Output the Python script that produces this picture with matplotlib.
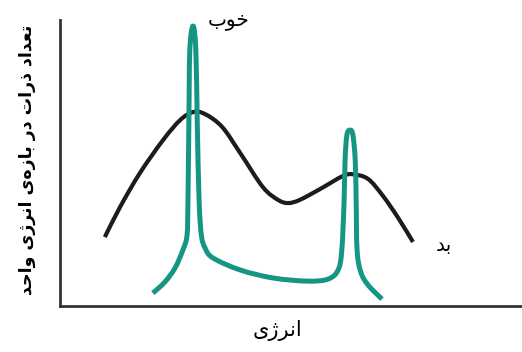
import matplotlib
matplotlib.use("Agg")
import matplotlib.pyplot as plt
from matplotlib.path import Path
from matplotlib.patches import PathPatch

# ---------------- data ----------------
bad_x = [9.7, 13.0, 17.3, 22.3, 26.0, 28.8, 31.4, 35.1, 39.0, 43.9, 47.2, 49.4,
         51.9, 56.3, 61.3, 63.6, 66.7, 69.9, 73.2, 76.4]
bad_y = [24.1, 34.6, 46.5, 58.0, 65.0, 67.8, 67.1, 62.6, 53.5, 41.6, 37.1, 36.0,
         37.1, 40.9, 45.5, 46.0, 44.4, 38.5, 30.8, 22.4]

good_x = [20.1, 22.7, 24.9, 26.6, 27.5, 27.7, 27.9, 28.1, 28.8, 29.4, 29.7, 30.1,
          30.6, 31.4, 33.1, 39.0, 46.1, 53.5, 58.0, 60.2, 61.0, 61.5, 61.7, 62.1,
          62.8, 63.4, 63.9, 64.1, 64.3, 65.1, 66.7, 69.7]
good_y = [4.5, 8.4, 13.3, 19.6, 24.8, 37.1, 65.0, 89.5, 97.9, 89.5, 65.0, 37.1,
          24.8, 20.3, 16.8, 12.6, 9.8, 8.7, 9.4, 12.6, 19.6, 37.1, 51.0, 59.8,
          61.5, 59.8, 51.0, 37.1, 19.6, 11.9, 7.3, 2.4]

ylabel_text = "تعداد ذرات در بازه\u200cی انرژی واحد"
xlabel_text = "انرژی"
good_label = "خوب"
bad_label = "بد"

# ---------------- minimal Arabic/Persian shaping ----------------
# (isolated, final, initial, medial)
FORMS = {
    'ا': ('\uFE8D', '\uFE8E', None, None),
    'ب': ('\uFE8F', '\uFE90', '\uFE91', '\uFE92'),
    'ت': ('\uFE95', '\uFE96', '\uFE97', '\uFE98'),
    'ح': ('\uFEA1', '\uFEA2', '\uFEA3', '\uFEA4'),
    'خ': ('\uFEA5', '\uFEA6', '\uFEA7', '\uFEA8'),
    'د': ('\uFEA9', '\uFEAA', None, None),
    'ذ': ('\uFEAB', '\uFEAC', None, None),
    'ر': ('\uFEAD', '\uFEAE', None, None),
    'ز': ('\uFEAF', '\uFEB0', None, None),
    'ژ': ('\uFB8A', '\uFB8B', None, None),
    'ع': ('\uFEC9', '\uFECA', '\uFECB', '\uFECC'),
    'ن': ('\uFEE5', '\uFEE6', '\uFEE7', '\uFEE8'),
    'ه': ('\uFEE9', '\uFEEA', '\uFEEB', '\uFEEC'),
    'و': ('\uFEED', '\uFEEE', None, None),
    'ی': ('\uFBFC', '\uFBFD', '\uFBFE', '\uFBFF'),
}


def shape(s):
    out = []
    n = len(s)
    for i, c in enumerate(s):
        if c not in FORMS:
            if c != '\u200c':
                out.append(c)
            continue
        p = s[i - 1] if i > 0 else ''
        nx = s[i + 1] if i + 1 < n else ''
        join_prev = p in FORMS and FORMS[p][2] is not None
        join_next = FORMS[c][2] is not None and nx in FORMS
        f = FORMS[c]
        if join_prev and join_next:
            out.append(f[3])
        elif join_prev:
            out.append(f[1])
        elif join_next:
            out.append(f[2])
        else:
            out.append(f[0])
    return ''.join(reversed(out))


def smooth_path(xs, ys, t=1.0 / 6.0):
    """Catmull-Rom curve through the given points, as cubic Bezier path."""
    pts = list(zip(xs, ys))
    verts = [pts[0]]
    codes = [Path.MOVETO]
    n = len(pts)
    for i in range(n - 1):
        p0 = pts[i - 1] if i > 0 else pts[i]
        p1 = pts[i]
        p2 = pts[i + 1]
        p3 = pts[i + 2] if i + 2 < n else pts[i + 1]
        c1 = (p1[0] + (p2[0] - p0[0]) * t, p1[1] + (p2[1] - p0[1]) * t)
        c2 = (p2[0] - (p3[0] - p1[0]) * t, p2[1] - (p3[1] - p1[1]) * t)
        verts += [c1, c2, p2]
        codes += [Path.CURVE4] * 3
    return Path(verts, codes)


# ---------------- figure ----------------
fig = plt.figure(figsize=(5.22, 3.52), dpi=100)
W, H = 522, 352
ax = fig.add_axes([60 / W, (H - 306) / H, (W - 60) / W, (306 - 20) / H])
ax.set_xlim(0, 100)
ax.set_ylim(0, 100)

ax.add_patch(PathPatch(smooth_path(bad_x, bad_y), facecolor='none',
                       edgecolor='#1c1c1c', lw=3.0, capstyle='butt',
                       joinstyle='round', zorder=2))
ax.add_patch(PathPatch(smooth_path(good_x, good_y), facecolor='none',
                       edgecolor='#159683', lw=3.6, capstyle='butt',
                       joinstyle='round', zorder=3))

for side in ['top', 'right']:
    ax.spines[side].set_visible(False)
for side in ['left', 'bottom']:
    ax.spines[side].set_linewidth(2.0)
    ax.spines[side].set_color('#333333')
ax.set_xticks([])
ax.set_yticks([])

ax.text(36.4, 100.0, shape(good_label), fontsize=14.5, ha='center', va='center',
        family='DejaVu Sans', clip_on=False)
ax.text(83.0, 21.0, shape(bad_label), fontsize=14.5, ha='center', va='center',
        family='DejaVu Sans')

ax.set_xlabel(shape(xlabel_text), fontsize=15, family='DejaVu Sans')
ax.xaxis.set_label_coords((278 - 60) / 462, -0.085)
ax.xaxis.label.set_va('center')
ax.set_ylabel(shape(ylabel_text), fontsize=12.5, family='DejaVu Sans',
              fontweight='bold')
ax.yaxis.set_label_coords(-0.071, 0.51)
ax.yaxis.label.set_va('center')

fig.savefig('out.png', dpi=100)
